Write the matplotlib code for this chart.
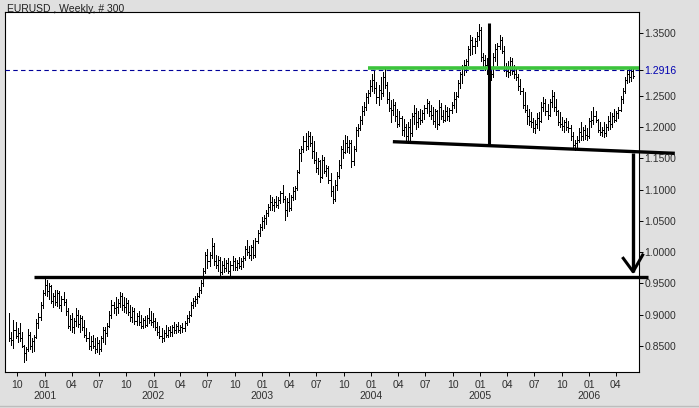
import matplotlib
matplotlib.use('Agg')
import matplotlib.pyplot as plt
import matplotlib.dates as mdates
from matplotlib.ticker import FuncFormatter, FixedLocator
from matplotlib.lines import Line2D
import pandas as pd

plt.rcParams['font.family'] = ['Liberation Sans', 'DejaVu Sans']

# weekly bars, 300 weeks
weeks = pd.date_range('2000-09-04', periods=300, freq='7D')

opens = [
    .895, .862, .860, .876, .866, .870, .862, .850, .838, .845, .868, .850, .858, .864, .886, .896, .915,
    .935, .948, .938, .945, .922, .930, .920, .935, .915, .925, .920, .905, .882, .893, .880, .890, .900, .885,
    .895, .880, .868, .862, .850, .858, .850, .845, .855, .845, .862, .876, .870, .882, .900, .915, .910, .912,
    .918, .930, .915, .912, .918, .904, .896, .906, .890, .898, .888, .882, .892, .884, .895, .892,
    .888, .890, .880, .872, .866, .862, .870, .868, .876, .872, .880, .876, .882, .875, .880, .878, .886, .895,
    .900, .915, .922, .925, .930, .940, .950, .970, .995, .985, .995, 1.010, .985, .980, .988, .968, .980, .975,
    .982, .970, .980, .985, .976, .982, .978, .986, .990, 1.005, 1.000, .995, 1.008, .995, 1.018, 1.030,
    1.040, 1.050, 1.055, 1.062, 1.072, 1.080, 1.075, 1.080, 1.076, 1.083, 1.095, 1.085, 1.068, 1.080, 1.070,
    1.088, 1.098, 1.102, 1.128, 1.158, 1.165, 1.178, 1.170, 1.185, 1.175, 1.162, 1.148, 1.135, 1.145, 1.120,
    1.148, 1.130, 1.134, 1.115, 1.098, 1.085, 1.108, 1.122, 1.140, 1.165, 1.160, 1.175, 1.168, 1.175, 1.145,
    1.165, 1.195, 1.198, 1.212, 1.225, 1.232, 1.248,
    1.255, 1.265, 1.275, 1.262, 1.248, 1.260, 1.255, 1.280, 1.268, 1.245, 1.230, 1.228, 1.235, 1.218, 1.205,
    1.215, 1.195, 1.200, 1.185, 1.200, 1.190, 1.218, 1.222, 1.208, 1.215, 1.212, 1.222, 1.230, 1.238, 1.225,
    1.220, 1.210, 1.225, 1.205, 1.232, 1.218, 1.212, 1.225, 1.218, 1.228, 1.236, 1.245, 1.250, 1.270, 1.285,
    1.295, 1.300, 1.305, 1.325, 1.340, 1.330, 1.338, 1.345,
    1.355, 1.312, 1.308, 1.300, 1.295, 1.280, 1.285, 1.312, 1.325, 1.330, 1.340, 1.322, 1.296, 1.290, 1.288,
    1.305, 1.290, 1.285, 1.280, 1.265, 1.258, 1.235, 1.228, 1.218, 1.210, 1.208, 1.198, 1.205, 1.215, 1.210,
    1.232, 1.238, 1.226, 1.220, 1.240, 1.250, 1.232, 1.225, 1.208, 1.205, 1.202, 1.208, 1.200, 1.198, 1.185,
    1.172, 1.175, 1.180, 1.192, 1.185, 1.195, 1.188,
    1.185, 1.210, 1.212, 1.218, 1.212, 1.196, 1.192, 1.195, 1.190, 1.200, 1.210, 1.205, 1.218, 1.212, 1.222,
    1.228, 1.245, 1.258, 1.275, 1.285, 1.280, 1.290,
]
highs = [
    .903, .872, .891, .888, .878, .886, .872, .852, .848, .877, .872, .862, .867, .893, .902, .920, .940,
    .958, .956, .950, .948, .935, .940, .939, .938, .930, .936, .925, .910, .899, .902, .895, .910, .908, .900,
    .898, .891, .878, .872, .865, .868, .862, .864, .860, .866, .880, .880, .886, .905, .923, .920, .928, .925,
    .936, .934, .928, .926, .923, .915, .912, .910, .902, .905, .899, .895, .898, .900, .910, .905,
    .902, .895, .888, .882, .878, .875, .883, .880, .882, .883, .888, .885, .888, .884, .887, .890, .899, .905,
    .920, .926, .930, .935, .944, .955, .975, 1.000, 1.005, 1.000, 1.022, 1.015, .995, .993, .992, .985, .990,
    .988, .990, .985, .993, .990, .988, .992, .990, .993, 1.010, 1.019, 1.010, 1.012, 1.020, 1.022, 1.035, 1.045,
    1.056, 1.060, 1.068, 1.077, 1.091, 1.088, 1.085, 1.090, 1.088, 1.098, 1.107, 1.090, 1.086, 1.094, 1.092,
    1.104, 1.106, 1.131, 1.165, 1.170, 1.185, 1.190, 1.193, 1.192, 1.185, 1.178, 1.160, 1.150, 1.148, 1.155,
    1.152, 1.140, 1.138, 1.126, 1.105, 1.115, 1.128, 1.147, 1.170, 1.179, 1.187, 1.185, 1.180, 1.179, 1.170,
    1.200, 1.205, 1.218, 1.233, 1.240, 1.254, 1.260,
    1.275, 1.285, 1.291, 1.272, 1.268, 1.280, 1.288, 1.293, 1.272, 1.256, 1.243, 1.245, 1.240, 1.229, 1.225,
    1.218, 1.213, 1.205, 1.208, 1.213, 1.222, 1.235, 1.230, 1.225, 1.229, 1.228, 1.235, 1.245, 1.242, 1.235,
    1.232, 1.229, 1.228, 1.243, 1.238, 1.228, 1.235, 1.232, 1.230, 1.240, 1.256, 1.256, 1.275, 1.288, 1.300,
    1.308, 1.309, 1.330, 1.347, 1.344, 1.342, 1.352, 1.365,
    1.360, 1.318, 1.315, 1.310, 1.300, 1.293, 1.318, 1.333, 1.335, 1.348, 1.344, 1.330, 1.302, 1.305, 1.312,
    1.310, 1.300, 1.296, 1.285, 1.277, 1.262, 1.256, 1.235, 1.229, 1.224, 1.215, 1.212, 1.222, 1.224, 1.240,
    1.248, 1.245, 1.237, 1.245, 1.259, 1.256, 1.245, 1.228, 1.224, 1.216, 1.212, 1.215, 1.210, 1.203, 1.192,
    1.180, 1.185, 1.198, 1.208, 1.200, 1.203, 1.198,
    1.215, 1.225, 1.232, 1.225, 1.213, 1.208, 1.200, 1.208, 1.205, 1.218, 1.224, 1.222, 1.229, 1.226, 1.232,
    1.250, 1.263, 1.280, 1.292, 1.296, 1.295, 1.294,
]
lows = [
    .858, .852, .846, .862, .856, .858, .848, .824, .828, .842, .845, .840, .842, .862, .878, .892, .910,
    .932, .930, .925, .918, .912, .915, .914, .910, .905, .915, .900, .878, .875, .872, .870, .882, .880, .872,
    .876, .864, .858, .845, .843, .846, .838, .840, .837, .842, .856, .853, .865, .880, .895, .902, .900, .902,
    .912, .908, .904, .902, .900, .890, .888, .885, .883, .884, .878, .879, .880, .882, .886, .883,
    .880, .875, .868, .862, .856, .858, .864, .864, .866, .865, .870, .871, .872, .870, .872, .874, .883, .888,
    .898, .910, .914, .918, .928, .935, .945, .966, .975, .978, .990, .980, .974, .970, .963, .965, .968,
    .970, .966, .963, .972, .971, .972, .974, .973, .976, .988, .995, .990, .988, .990, .992, 1.015, 1.025,
    1.035, 1.038, 1.045, 1.058, 1.067, 1.068, 1.066, 1.072, 1.070, 1.078, 1.080, 1.051, 1.058, 1.066, 1.068,
    1.084, 1.085, 1.100, 1.126, 1.145, 1.160, 1.163, 1.165, 1.170, 1.150, 1.142, 1.128, 1.125, 1.112, 1.118,
    1.126, 1.122, 1.110, 1.090, 1.078, 1.082, 1.100, 1.118, 1.135, 1.150, 1.158, 1.160, 1.158, 1.136, 1.140,
    1.162, 1.185, 1.195, 1.205, 1.220, 1.227, 1.238,
    1.250, 1.258, 1.255, 1.238, 1.235, 1.245, 1.250, 1.262, 1.238, 1.225, 1.208, 1.220, 1.210, 1.200, 1.202,
    1.188, 1.185, 1.176, 1.180, 1.178, 1.186, 1.205, 1.197, 1.200, 1.205, 1.208, 1.213, 1.222, 1.218, 1.213,
    1.205, 1.200, 1.197, 1.203, 1.213, 1.208, 1.210, 1.212, 1.210, 1.222, 1.230, 1.224, 1.248, 1.262, 1.270,
    1.283, 1.288, 1.300, 1.315, 1.317, 1.318, 1.330, 1.340,
    1.305, 1.298, 1.292, 1.285, 1.272, 1.276, 1.280, 1.305, 1.300, 1.325, 1.318, 1.290, 1.282, 1.280, 1.283,
    1.285, 1.278, 1.275, 1.260, 1.253, 1.230, 1.224, 1.205, 1.203, 1.200, 1.192, 1.190, 1.198, 1.196, 1.208,
    1.225, 1.219, 1.213, 1.218, 1.232, 1.225, 1.219, 1.203, 1.200, 1.195, 1.192, 1.195, 1.192, 1.180, 1.168,
    1.164, 1.166, 1.176, 1.180, 1.179, 1.181, 1.180,
    1.182, 1.200, 1.205, 1.208, 1.192, 1.187, 1.186, 1.184, 1.186, 1.195, 1.197, 1.200, 1.208, 1.210, 1.214,
    1.225, 1.238, 1.255, 1.270, 1.272, 1.274, 1.278,
]
closes = [
    .862, .860, .876, .866, .870, .862, .852, .838, .845, .868, .850, .858, .864, .886, .896, .915, .935,
    .948, .938, .945, .922, .930, .920, .935, .915, .925, .920, .905, .882, .893, .880, .890, .900, .885, .895,
    .880, .868, .862, .850, .858, .850, .845, .855, .845, .862, .876, .870, .882, .900, .915, .910, .912, .918,
    .930, .915, .912, .918, .904, .896, .906, .890, .898, .888, .882, .892, .884, .895, .892, .888,
    .890, .880, .872, .866, .862, .870, .868, .876, .872, .880, .876, .882, .875, .880, .878, .886, .895, .900,
    .915, .922, .925, .930, .940, .950, .970, .995, .985, .995, 1.010, .985, .980, .988, .968, .980, .975,
    .982, .970, .980, .985, .976, .982, .978, .986, .990, 1.005, 1.000, .995, 1.008, .995, 1.018, 1.030, 1.040,
    1.050, 1.055, 1.062, 1.072, 1.080, 1.075, 1.080, 1.076, 1.083, 1.095, 1.085, 1.068, 1.080, 1.070, 1.088,
    1.098, 1.102, 1.128, 1.158, 1.165, 1.178, 1.170, 1.185, 1.175, 1.162, 1.148, 1.135, 1.145, 1.120, 1.148,
    1.130, 1.134, 1.115, 1.098, 1.085, 1.108, 1.122, 1.140, 1.165, 1.160, 1.175, 1.168, 1.175, 1.145, 1.165,
    1.195, 1.198, 1.212, 1.225, 1.232, 1.248, 1.255,
    1.265, 1.275, 1.262, 1.248, 1.260, 1.255, 1.280, 1.268, 1.245, 1.230, 1.228, 1.235, 1.218, 1.205, 1.215,
    1.195, 1.200, 1.185, 1.200, 1.190, 1.218, 1.222, 1.208, 1.215, 1.212, 1.222, 1.230, 1.238, 1.225, 1.220,
    1.210, 1.225, 1.205, 1.232, 1.218, 1.212, 1.225, 1.218, 1.228, 1.236, 1.245, 1.250, 1.270, 1.285, 1.295,
    1.300, 1.305, 1.325, 1.340, 1.330, 1.338, 1.345, 1.355,
    1.312, 1.308, 1.300, 1.295, 1.280, 1.285, 1.312, 1.325, 1.330, 1.340, 1.322, 1.296, 1.290, 1.288, 1.305,
    1.290, 1.285, 1.280, 1.265, 1.258, 1.235, 1.228, 1.218, 1.210, 1.208, 1.198, 1.205, 1.215, 1.210, 1.232,
    1.238, 1.226, 1.220, 1.240, 1.250, 1.232, 1.225, 1.208, 1.205, 1.202, 1.208, 1.200, 1.198, 1.185, 1.172,
    1.175, 1.180, 1.192, 1.185, 1.195, 1.188, 1.185,
    1.210, 1.212, 1.218, 1.212, 1.196, 1.192, 1.195, 1.190, 1.200, 1.210, 1.205, 1.218, 1.212, 1.222, 1.228,
    1.245, 1.258, 1.275, 1.285, 1.280, 1.290, 1.282,
]

price_ticks = [0.85, 0.90, 0.95, 1.00, 1.05, 1.10, 1.15, 1.20, 1.25, 1.35]
last_level = 1.2916

# hand drawn pattern lines (date, price)
support_x = ['2000-11-26', '2006-07-18']
support_y = [0.9595, 0.9595]
top_x = ['2003-12-21', '2006-08-01']
top_y = [1.2945, 1.2945]
neck_x = ['2004-03-14', '2006-10-16']
neck_y = [1.1766, 1.158]
head_x = ['2005-01-30', '2005-01-30']
head_y = [1.366, 1.1705]
arrow_x = ['2006-05-29', '2006-05-29']
arrow_y = [1.1585, 0.9686]
arrowhead_x = ['2006-04-26', '2006-05-29', '2006-06-30']
arrowhead_y = [0.990, 0.9686, 0.9953]

fig = plt.figure(figsize=(6.99, 4.08), dpi=100, facecolor='#e0e0e0')
ax = fig.add_axes([5 / 699, 36 / 408, 634 / 699, 360 / 408])
ax.set_facecolor('white')

x = mdates.date2num(weeks)
tk = 2.4
ax.vlines(x, lows, highs, colors='black', linewidth=0.5, antialiased=False, zorder=2)
ax.hlines(opens, x - tk, x, colors='black', linewidth=0.5, antialiased=False, zorder=2)
ax.hlines(closes, x, x + tk, colors='black', linewidth=0.5, antialiased=False, zorder=2)

d = lambda lst: mdates.date2num(pd.to_datetime(lst))
ax.plot(d(top_x), top_y, color='#3cc43c', lw=2.6, solid_capstyle='butt', zorder=3)
ax.axhline(last_level, color='#000099', lw=0.8, dashes=(4, 3), zorder=4)
ax.plot(d(support_x), support_y, color='black', lw=2.4, solid_capstyle='butt', clip_on=False, zorder=5)
ax.plot(d(neck_x), neck_y, color='black', lw=2.4, solid_capstyle='butt', clip_on=False, zorder=5)
ax.plot(d(head_x), head_y, color='black', lw=2.2, solid_capstyle='butt', zorder=5)
ax.plot(d(arrow_x), arrow_y, color='black', lw=2.4, solid_capstyle='butt', zorder=5)
ax.plot(d(arrowhead_x), arrowhead_y, color='black', lw=2.2, clip_on=False, zorder=5)

ax.set_xlim(mdates.date2num(pd.Timestamp('2000-08-20 17:00')), mdates.date2num(pd.Timestamp('2006-06-17 19:00')))
ax.set_ylim(0.8081, 1.3841)

# right price axis
ax.yaxis.tick_right()
yt = sorted(price_ticks + [last_level])
ax.yaxis.set_major_locator(FixedLocator(yt))
ax.yaxis.set_major_formatter(FuncFormatter(lambda v, p: '%.4f' % v))

# month / year axis
ax.xaxis.set_major_locator(mdates.MonthLocator(bymonth=[1, 4, 7, 10]))


def month_label(v, p):
    dt = mdates.num2date(v)
    if dt.month == 1:
        return '%02d\n%d' % (dt.month, dt.year)
    return '%02d' % dt.month


ax.xaxis.set_major_formatter(FuncFormatter(month_label))
ax.tick_params(axis='both', direction='out', length=2.6, width=0.7, labelsize=7.5,
               colors='black', labelcolor='#303030')
ax.tick_params(axis='x', pad=3)
ax.tick_params(axis='y', pad=1.5)
for lab, v in zip(ax.get_yticklabels(), yt):
    lab.set_color('#0000b0' if v == last_level else '#303030')
for s in ax.spines.values():
    s.set_linewidth(0.8)
    s.set_color('black')

fig.text(7 / 699, 1 - 11.5 / 408, 'EURUSD , Weekly, # 300', fontsize=7.5, va='baseline',
         ha='left', color='#202020')
fig.add_artist(Line2D([0, 1], [2.0 / 408, 2.0 / 408], color='#bdbdbd', lw=1.0))

fig.savefig('out.png', dpi=100, facecolor=fig.get_facecolor())
